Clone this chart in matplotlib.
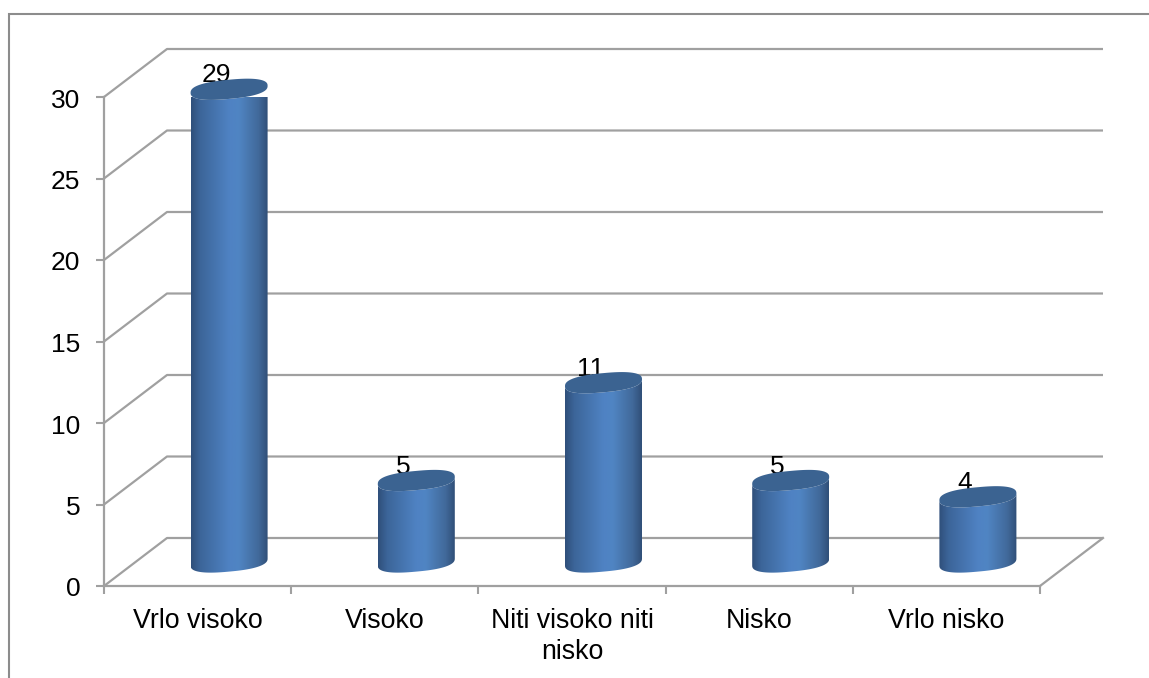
import numpy as np
import matplotlib
matplotlib.use("Agg")
import matplotlib.pyplot as plt
from matplotlib.colors import LinearSegmentedColormap
from matplotlib.patches import Polygon, Rectangle
from matplotlib.transforms import ScaledTranslation

categories = ["Vrlo visoko", "Visoko", "Niti visoko niti\nnisko", "Nisko", "Vrlo nisko"]
values = [29, 5, 11, 5, 4]
y_ticks = [0, 5, 10, 15, 20, 25, 30]

W, H = 1149, 678
LEFT, RIGHT, BASE, TOP = 104, 1040, 586, 97
DEPTH_X, DEPTH_Y = 63, 48  # oblique offset of the back wall, in pixels
RX, RB, TILT = 38.5, 9.6, 3.5  # cylinder ellipse in pixels
GREY = "#a0a0a0"

plt.rcParams["font.family"] = ["Liberation Sans", "DejaVu Sans"]

fig = plt.figure(figsize=(W / 100, H / 100), dpi=100)
fig.patches.append(Rectangle((9 / W, -0.1), 1.2, 1.1 - 14 / H, transform=fig.transFigure,
                             facecolor="none", edgecolor="#8c8c8c", linewidth=1.5))

ax = fig.add_axes([LEFT / W, 1 - BASE / H, (RIGHT - LEFT) / W, (BASE - TOP) / H])
ax.patch.set_alpha(0)

# pixels per data unit
sx = (RIGHT - LEFT) / len(categories)
sy = (BASE - TOP) / y_ticks[-1]
dx = DEPTH_X / sx
dy = DEPTH_Y / sy


def ellipse_points(cx, cy, t):
    # squared off ellipse, sheared so the right side sits higher
    c = np.sign(np.cos(t)) * np.abs(np.cos(t)) ** 0.8
    s = np.sign(np.sin(t)) * np.abs(np.sin(t)) ** 0.8
    ex = cx + RX * c / sx
    ey = cy + (RB * s + TILT * c) / sy
    return ex, ey


# floor and back wall lines
for v in y_ticks:
    xs = [0, dx, len(categories) + dx]
    ys = [v, v + dy, v + dy]
    ax.plot(xs, ys, color=GREY, lw=1.6, clip_on=False, zorder=1, solid_capstyle="butt")
ax.plot([len(categories), len(categories) + dx], [0, dy], color=GREY, lw=1.6, clip_on=False, zorder=1)

cmap = LinearSegmentedColormap.from_list(
    "cyl", [(0, "#2f4f7a"), (0.12, "#3c6599"), (0.5, "#4f82c3"), (0.62, "#5085c3"),
            (0.88, "#41699a"), (1, "#304f78")])
gradient = np.linspace(0, 1, 256).reshape(1, -1)

for i, v in enumerate(values):
    cx = i + 0.5 + dx / 2
    base = dy / 2
    top = v + dy / 2

    ax.text(cx - 13 / sx, v + 38 / sy, str(v), ha="center", va="center",
            fontsize=19, color="black", zorder=2)

    # body: right edge down, lower half of the base ellipse, left edge up
    t_low = np.linspace(0, -np.pi, 80)
    bx, by = ellipse_points(cx, base, t_low)
    tx, ty = ellipse_points(cx, top, t_low[::-1])
    body = Polygon(np.column_stack([np.r_[bx, tx], np.r_[by, ty]]), closed=True,
                   transform=ax.transData, facecolor="none", edgecolor="none")
    ax.add_patch(body)
    body.set_clip_on(False)
    im = ax.imshow(gradient, cmap=cmap, aspect="auto", zorder=3,
                   extent=[cx - RX / sx, cx + RX / sx, base - 15 / sy, top + 15 / sy])
    im.set_clip_path(body)

    t_all = np.linspace(0, 2 * np.pi, 120)
    ex, ey = ellipse_points(cx, top, t_all)
    ax.fill(ex, ey, color="#3b6391", lw=0, zorder=4, clip_on=False)

ax.set_xlim(0, len(categories))
ax.set_ylim(0, y_ticks[-1])

for name in ["top", "right"]:
    ax.spines[name].set_visible(False)
for name in ["left", "bottom"]:
    ax.spines[name].set_color(GREY)
    ax.spines[name].set_linewidth(1.6)

ax.set_yticks(y_ticks)
ax.set_yticklabels([str(v) for v in y_ticks], fontsize=19)
ax.set_xticks(np.arange(len(categories) + 1))
ax.set_xticklabels([])
ax.set_xticks(np.arange(len(categories)) + 0.5, minor=True)
ax.set_xticklabels(categories, minor=True, fontsize=19.3, linespacing=1.28)
ax.tick_params(axis="x", which="major", length=6, width=1.5, color=GREY)
ax.tick_params(axis="x", which="minor", length=0, pad=15.5)
ax.tick_params(axis="y", length=6, width=1.5, color=GREY, pad=11)

# tick labels sit a touch lower than their ticks in the original
shift = ScaledTranslation(0, -1 / 100, fig.dpi_scale_trans)
for label in ax.get_yticklabels():
    label.set_transform(label.get_transform() + shift)

fig.savefig("out.png", dpi=100)
